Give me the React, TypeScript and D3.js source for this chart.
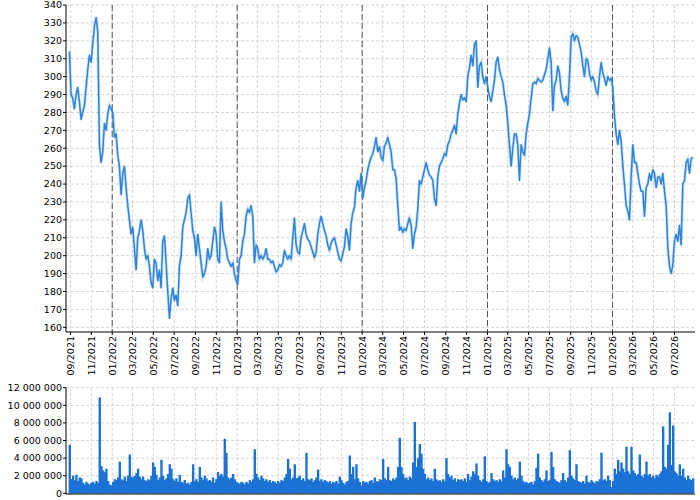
import * as d3 from "d3";

// closing price, one reading about every 4.9 days from the start date
const startDate = new Date(2021, 7, 29);
const stepDays = 4.868;

const prices = [
  314, 290, 288, 282, 290, 294, 286, 276, 280, 284,
  294, 304, 312, 308, 318, 328, 333, 325, 262, 252,
  258, 274, 270, 279, 284, 282, 280, 266, 268, 256,
  250, 234, 246, 250, 238, 228, 220, 212, 216, 204,
  192, 210, 214, 220, 214, 204, 198, 200, 194, 185,
  182, 198, 196, 186, 192, 182, 208, 211, 196, 180,
  165, 176, 182, 175, 178, 172, 194, 200, 216, 220,
  224, 232, 234, 224, 214, 210, 200, 212, 204, 196,
  188, 190, 194, 204, 198, 200, 208, 216, 212, 198,
  196, 230, 214, 208, 204, 198, 196, 194, 196, 190,
  186, 184, 198, 200, 208, 212, 222, 226, 224, 228,
  222, 196, 206, 204, 198, 200, 198, 200, 204, 198,
  198, 196,
  197, 194, 191, 192, 195, 194, 196, 203, 200, 198,
  200, 198, 210, 221, 206, 202, 201, 210, 214, 218,
  212, 209, 208, 205, 202, 199, 202, 212, 218, 222,
  218, 214, 211, 206, 203, 207, 209, 210, 206, 202,
  198, 197, 201, 205, 215, 211, 203, 218, 224, 227,
  238, 242, 236, 246, 232, 238, 242, 248, 252, 255,
  257, 261, 266, 258, 261, 255, 253, 261, 263, 266,
  262, 258, 248, 248, 243, 228, 214, 216, 213, 215,
  214, 218, 221, 217, 204, 212, 216, 226, 242, 240,
  244, 248, 252, 248, 245, 244, 242, 232, 228, 244,
  250, 252, 254, 257, 256, 262, 264, 268, 270, 273,
  268, 279, 285, 290, 287, 288, 286, 300, 305, 312,
  306, 318, 320, 294, 306, 308,
  300, 296, 300, 294, 289, 286, 292, 298, 308, 311,
  304, 300, 297, 290, 284, 274, 262, 250, 260, 268,
  268, 262, 242, 262, 258, 256, 268, 274, 279, 288,
  296, 297, 296, 299, 298, 297, 298, 301, 304, 310,
  316, 308, 281, 295, 298, 306, 302, 292, 288, 286,
  289, 284, 300, 322, 324, 320, 323, 322, 318, 314,
  306, 300, 310, 309, 302, 298, 300, 297, 292, 290,
  300, 308, 302, 299, 295, 300, 298, 299, 294, 278,
  268, 262, 270, 264, 250, 240, 228, 225, 220, 244,
  262, 252, 252, 246, 240, 236, 236, 222, 238, 240,
  246, 242, 248, 246, 238, 244, 244, 240, 246, 236,
  228, 205, 194, 190, 195, 208, 212, 208, 217, 206,
  240, 242, 252, 254, 246, 254, 255,
];

// volume in millions, same sampling as prices
const volumes = [
  5.5, 1.6, 2.0, 1.5, 2.1, 1.4, 1.8, 1.7, 1.2, 1.0,
  1.3, 1.1, 1.0, 1.2, 1.3, 1.1, 1.4, 1.2, 10.9, 3.1,
  2.6, 2.4, 2.8, 1.4, 1.0, 0.9, 1.3, 1.6, 1.5, 1.8,
  3.6, 1.6, 1.5, 1.9, 1.4, 2.0, 4.4, 1.9, 1.8, 2.0,
  2.3, 2.8, 1.9, 1.6, 1.9, 1.5, 1.4, 1.6, 1.5, 2.0,
  3.5, 3.0, 2.1, 1.5, 1.8, 3.8, 2.0, 1.5, 1.7, 2.2,
  3.3, 2.8, 1.6, 1.4, 1.7, 1.3, 2.1, 1.3, 1.2, 1.5,
  1.1, 1.2, 1.0, 1.3, 3.3, 1.4, 1.6, 1.3, 3.0, 1.8,
  1.5, 2.0, 1.7, 1.4, 1.5, 1.3, 1.8, 1.2, 1.6, 2.4,
  2.0, 2.2, 1.9, 6.2, 4.6, 1.8, 1.6,
  1.8, 2.2, 1.6, 1.3, 1.2, 1.1, 1.3, 1.2, 1.0, 1.3,
  1.1, 1.5, 1.3, 1.6, 5.0, 2.2, 1.8, 1.5, 2.0, 1.7,
  1.4, 1.6, 1.3, 1.5, 1.2, 1.4, 1.3, 1.1, 1.4, 1.2,
  1.5, 1.4, 1.8, 2.2, 3.9, 2.8, 1.6, 1.8, 3.3, 1.7,
  1.8, 2.0, 1.5, 1.7, 1.4, 4.6, 1.6, 1.5, 1.7, 1.3,
  1.5, 1.8, 2.7, 1.4, 1.6, 1.3, 1.5, 1.4, 1.2, 1.4,
  1.1, 1.3, 1.2, 1.4, 1.1, 1.9, 1.5, 1.2, 1.0, 1.3,
  1.4, 4.3, 2.2, 3.0, 1.6, 3.3, 1.7, 1.3, 0.9, 1.4,
  1.2, 1.3, 1.1, 1.4, 1.5, 1.2, 1.8, 1.4, 1.3, 1.6,
  1.5, 3.9, 1.7, 1.5, 3.0, 1.5, 1.4, 1.7, 1.5, 1.8,
  3.0, 6.3, 3.0, 2.2, 1.7, 1.8, 1.5, 1.9, 1.7, 3.5,
  8.1, 3.0, 4.0, 5.6, 4.5, 2.8, 2.2, 1.6, 1.8, 1.5,
  1.7, 1.4, 2.8, 1.6, 1.4, 1.5, 1.3, 1.6, 1.4, 4.0,
  2.2, 1.8, 2.0, 1.5, 1.7, 1.3, 1.6, 1.5,
  1.6, 1.4, 1.7, 1.3, 2.2, 1.5, 1.9, 2.5, 2.2, 3.4,
  2.0, 1.5, 1.3, 1.6, 4.2, 1.4, 1.2, 1.3, 2.3, 1.6,
  1.4, 1.5, 1.3, 1.6, 1.4, 2.6, 1.8, 5.0, 3.3, 3.0,
  2.0, 1.6, 1.8, 1.5, 1.7, 3.6, 2.0, 1.4, 1.2, 1.3,
  1.1, 1.2, 1.3, 1.0, 1.4, 2.9, 4.5, 1.8, 1.5, 1.3,
  1.6, 2.6, 1.4, 1.5, 4.7, 3.0, 1.6, 1.4, 1.3, 1.2,
  1.5, 2.3, 1.5, 1.3, 1.8, 4.9, 2.0, 1.7, 1.5, 3.3,
  1.4, 1.3, 1.2, 1.4, 1.1, 2.0, 1.3, 1.2, 1.5, 1.3,
  1.1, 1.4, 1.3, 1.6, 4.6, 1.5, 1.6, 1.4, 2.0, 1.5,
  0.7, 1.4, 2.8, 2.2, 3.8, 2.5, 3.5, 2.8, 2.4, 5.3,
  2.5, 2.2, 5.3, 2.6, 2.3, 2.0, 2.2, 4.4, 2.0, 1.8,
  2.2, 3.6, 2.0, 2.2, 1.8, 2.0, 1.7, 2.1, 1.9, 2.2,
  2.5, 7.6, 3.0, 2.8, 5.5, 9.2, 3.2, 7.7, 2.5, 2.3,
  2.0, 3.3, 2.0, 2.8, 1.8, 1.5, 2.0, 1.6, 1.5, 1.7,
];

const priceTicks = d3.range(160, 341, 10);
const volumeTicks = [0, 2e6, 4e6, 6e6, 8e6, 10e6, 12e6];

const font = "DejaVu Sans, sans-serif";
const gridColor = "#d4d4d4";

export default function App() {
  const width = 700;
  const height = 500;
  const left = 66;
  const right = 695;
  const mainTop = 5;
  const mainBottom = 332;
  const volTop = 387.7;
  const volBottom = 494;

  const x = d3
    .scaleTime()
    .domain([new Date(2021, 7, 19), new Date(2026, 7, 30)])
    .range([left, right]);
  const y = d3.scaleLinear().domain([160, 340]).range([327.3, mainTop]);
  const yv = d3.scaleLinear().domain([0, 12e6]).range([493.3, volTop]);

  const dateAt = (i: number) => new Date(startDate.getTime() + i * stepDays * 864e5);

  const line = d3
    .line<number>()
    .x((_d, i) => x(dateAt(i)))
    .y((d) => y(d));

  const months = x.ticks(d3.timeMonth.every(2)!);
  const years = d3.timeYear.range(x.domain()[0], x.domain()[1]);
  const fmtMonth = d3.timeFormat("%m/%Y");
  const fmtVol = (v: number) => d3.format(",")(v).replace(/,/g, " ");
  const barW = x(dateAt(1)) - x(dateAt(0));

  return (
    <svg
      width={width}
      height={height}
      style={{ position: "absolute", left: 0, top: 0, background: "#fff" }}
      fontFamily={font}
      fontSize={9.5}
    >
      {/* price grid */}
      <g stroke={gridColor} strokeDasharray="3,2" strokeWidth={1}>
        {priceTicks.map((t) => (
          <line key={t} x1={left} x2={right} y1={y(t)} y2={y(t)} />
        ))}
        {months.map((m) => (
          <line key={+m} x1={x(m)} x2={x(m)} y1={mainTop} y2={mainBottom} />
        ))}
      </g>
      <g stroke="#555" strokeDasharray="6,3" strokeWidth={1}>
        {years.map((yr) => (
          <line key={+yr} x1={x(yr)} x2={x(yr)} y1={mainTop} y2={mainBottom} />
        ))}
      </g>

      <path d={String(line(prices))} fill="none" stroke="#2d84d8" strokeOpacity={0.22} strokeWidth={3.2} />
      <path d={String(line(prices))} fill="none" stroke="#2d84d8" strokeWidth={1.5} strokeLinejoin="round" />

      {/* price axes */}
      <line x1={left} x2={left} y1={mainTop} y2={mainBottom} stroke="#000" />
      <line x1={left} x2={right} y1={mainBottom} y2={mainBottom} stroke="#000" />
      {priceTicks.map((t) => (
        <g key={t}>
          <line x1={left - 3} x2={left} y1={y(t)} y2={y(t)} stroke="#000" />
          <text x={left - 4} y={y(t)} dy="0.35em" textAnchor="end">
            {t}
          </text>
        </g>
      ))}
      {months.map((m) => (
        <g key={+m}>
          <line x1={x(m)} x2={x(m)} y1={mainBottom} y2={mainBottom + 3} stroke="#000" />
          <text
            transform={`translate(${x(m)},${mainBottom + 4}) rotate(-90)`}
            dy="0.35em"
            textAnchor="end"
          >
            {fmtMonth(m)}
          </text>
        </g>
      ))}

      {/* volume grid */}
      <g stroke={gridColor} strokeDasharray="3,2" strokeWidth={1}>
        {volumeTicks.map((t) => (
          <line key={t} x1={left} x2={right} y1={yv(t)} y2={yv(t)} />
        ))}
        {months.map((m) => (
          <line key={+m} x1={x(m)} x2={x(m)} y1={volTop} y2={volBottom} />
        ))}
      </g>

      <g fill="#1c72d4">
        {volumes.map((v, i) => (
          <rect
            key={i}
            x={x(dateAt(i)) - barW / 2}
            y={yv(v * 1e6)}
            width={barW + 0.7}
            height={yv(0) - yv(v * 1e6)}
          />
        ))}
      </g>

      {/* volume axes */}
      <line x1={left} x2={left} y1={volTop} y2={volBottom} stroke="#000" />
      <line x1={left} x2={right} y1={volBottom} y2={volBottom} stroke="#000" />
      {volumeTicks.map((t) => (
        <g key={t}>
          <line x1={left - 3} x2={left} y1={yv(t)} y2={yv(t)} stroke="#000" />
          <text x={left - 4} y={yv(t)} dy="0.35em" textAnchor="end">
            {fmtVol(t)}
          </text>
        </g>
      ))}
    </svg>
  );
}
